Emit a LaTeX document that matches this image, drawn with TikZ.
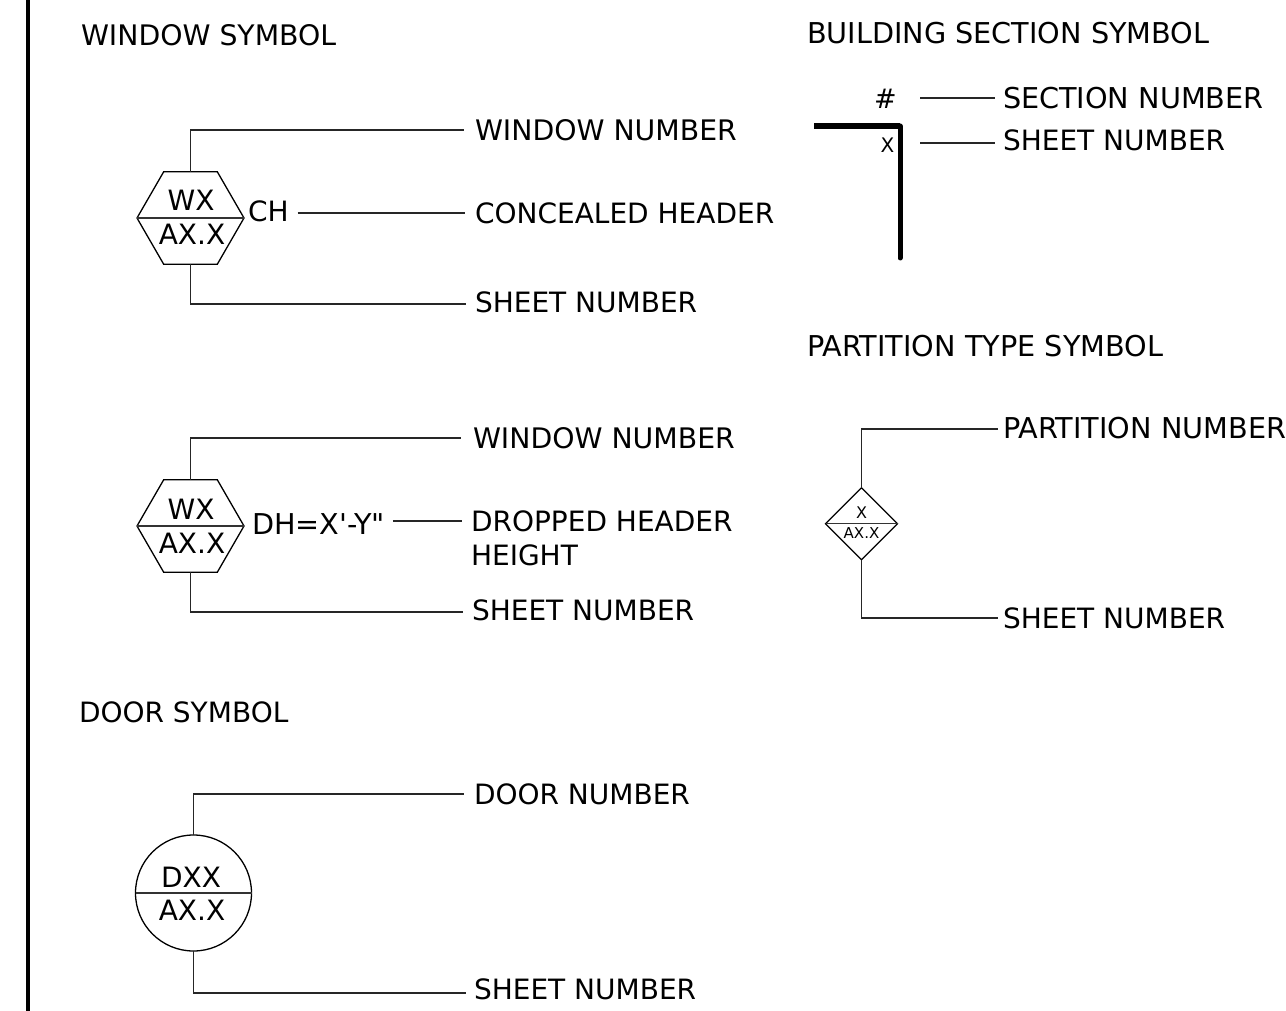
\documentclass[tikz,border=0pt]{standalone}
\usepackage{fontspec}
\usetikzlibrary{shapes.geometric}
\newfontfamily\dvfont{DejaVu Sans}
\tikzset{
  x=1pt,y=-1pt,
  txt/.style={inner sep=0pt,outer sep=0pt,font=\dvfont\fontsize{28}{28}\selectfont,text=black},
  lbl/.style={txt,anchor=west},
  wide/.style={font=\dvfont\fontsize{28.7}{28.7}\selectfont},
  mid/.style={font=\dvfont\fontsize{28.3}{28.3}\selectfont},
  small/.style={inner sep=0pt,outer sep=0pt,font=\dvfont\fontsize{#1}{#1}\selectfont,text=black},
  hexsym/.style={draw=black,line width=1.3pt,regular polygon,regular polygon sides=6,minimum size=107pt,inner sep=0pt,outer sep=0pt},
  diasym/.style={draw=black,line width=1.3pt,regular polygon,regular polygon sides=4,minimum size=72pt,inner sep=0pt,outer sep=0pt},
  circsym/.style={draw=black,line width=1.3pt,circle,minimum size=116pt,inner sep=0pt,outer sep=0pt},
  lead/.style={draw=black!85,line width=1.15pt},
  divider/.style={draw=black!80,line width=1.3pt},
  heavy/.style={draw=black,line cap=round},
}
\begin{document}
\begin{tikzpicture}
\useasboundingbox (0,0) rectangle (1286,1011);
\draw[draw=black,line width=3.6pt] (28,0) coordinate (bt) -- (28,1011) coordinate (bb);

% headings
\node[lbl,mid] (h1) at (81,35) {WINDOW SYMBOL};
\node[lbl,wide] (h2) at (807,33) {BUILDING SECTION SYMBOL};
\node[lbl,wide] (h3) at (807,346) {PARTITION TYPE SYMBOL};
\node[lbl] (h4) at (79,712) {DOOR SYMBOL};

% window symbol 1
\node[hexsym] (w1) at (190.5,218) {};
\draw[divider] (w1.corner 3) -- (w1.corner 6);
\node[txt] (w1a) at (191,200) {WX};
\node[txt] (w1b) at (192,234) {AX.X};
\node[lbl] (w1ch) at (248,211) {CH};
\node[lbl,mid] (w1n) at (475,130) {WINDOW NUMBER};
\node[lbl] (w1c) at (475,213) {CONCEALED HEADER};
\node[lbl] (w1s) at (475,302) {SHEET NUMBER};
\draw[lead,shorten >=11pt] (w1.north) |- (w1n.west);
\draw[lead,shorten >=10pt,shorten <=9pt] (w1ch.east |- w1c.west) -- (w1c.west);
\draw[lead,shorten >=9pt] (w1.south) |- ([yshift=-2pt]w1s.west);

% window symbol 2
\node[hexsym] (w2) at (190.5,526) {};
\draw[divider] (w2.corner 3) -- (w2.corner 6);
\node[txt] (w2a) at (191,509) {WX};
\node[txt] (w2b) at (192,543) {AX.X};
\node[lbl,wide] (w2dh) at (252,524) {DH=X'-Y"};
\node[lbl,mid] (w2n) at (473,438) {WINDOW NUMBER};
\node[lbl] (w2d) at (471,521) {DROPPED HEADER};
\node[lbl] (w2h) at (471,555) {HEIGHT};
\node[lbl] (w2s) at (472,610) {SHEET NUMBER};
\draw[lead,shorten >=12pt] (w2.north) |- (w2n.west);
\draw[lead,shorten >=9pt,shorten <=8pt] (w2dh.east |- w2d.west) -- (w2d.west);
\draw[lead,shorten >=9pt] (w2.south) |- ([yshift=-2pt]w2s.west);

% door symbol
\node[circsym] (d) at (193.5,893) {};
\draw[divider] (d.west) -- (d.east);
\node[txt] (da) at (191,877) {DXX};
\node[txt] (db) at (192,910) {AX.X};
\node[lbl] (dn) at (474,794) {DOOR NUMBER};
\node[lbl] (ds) at (474,989) {SHEET NUMBER};
\draw[lead,shorten >=10pt] (d.north) |- (dn.west);
\draw[lead,shorten >=8pt] (d.south) |- ([yshift=-4pt]ds.west);

% building section symbol
\coordinate (sa) at (814,126);
\coordinate (sb) at (900,126);
\coordinate (sc) at (900,258);
\draw[heavy,line width=6pt,line cap=butt] (sa) -- (sb);
\draw[heavy,line width=5pt] (sb) -- (sc);
\node[small=27] (sh) at (885.5,99) {\#};
\node[small=20] (sx) at (887.5,145) {X};
\node[lbl,wide] (sn) at (1003,98) {SECTION NUMBER};
\node[lbl] (ss) at (1003,140) {SHEET NUMBER};
\draw[lead,shorten >=8pt,shorten <=20pt] (sb |- sn.west) -- (sn.west);
\draw[lead,shorten >=8pt,shorten <=20pt] (sb |- 0,143) -- ([yshift=-3pt]ss.west);

% partition type symbol
\node[diasym,shape border rotate=45] (p) at (861.5,523.8) {};
\draw[divider] (p.corner 2) -- (p.corner 4);
\node[small=16] (pa) at (861.5,513) {X};
\node[small=15] (pb) at (861.5,533) {AX.X};
\node[lbl,wide] (pn) at (1003,428) {PARTITION NUMBER};
\node[lbl] (ps) at (1003,618) {SHEET NUMBER};
\draw[lead,shorten >=5pt] (p.north) |- ([yshift=-1pt]pn.west);
\draw[lead,shorten >=5pt] (p.south) |- (ps.west);
\end{tikzpicture}
\end{document}
